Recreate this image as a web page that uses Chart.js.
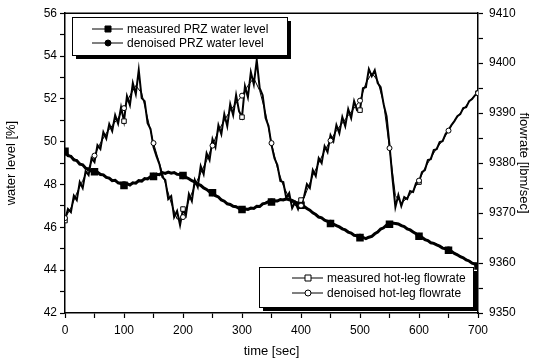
<!DOCTYPE html>
<html>
<head>
<meta charset="utf-8">
<script src="https://cdn.jsdelivr.net/npm/chart.js@4.4.1/dist/chart.umd.min.js"></script>
<style>
  body { margin: 0; background: #fff; }
  #wrap { width: 535px; height: 363px; }
</style>
</head>
<body>
<div id="wrap"><canvas id="c" width="535" height="363"></canvas></div>
<script>
// sample times [sec]
const times5 = Array.from({ length: 141 }, (_, i) => i * 5);
const times10 = Array.from({ length: 71 }, (_, i) => i * 10);

// PRZ water level [%], left axis
const levelMeasured = [
  49.55, 49.35, 49.32, 49.15, 49.12, 48.95, 48.92, 48.76, 48.72, 48.62,
  48.6, 48.58, 48.47, 48.45, 48.33, 48.30, 48.18, 48.2, 48.08, 48.05,
  47.96, 48.04, 47.98, 48.08, 48.06, 48.18, 48.16, 48.28, 48.26, 48.37,
  48.38, 48.48, 48.46, 48.56, 48.52, 48.58, 48.53, 48.56, 48.48, 48.47,
  48.42, 48.34, 48.27, 48.18, 48.12, 48.02, 47.96, 47.84, 47.77, 47.66,
  47.62, 47.48, 47.42, 47.28, 47.22, 47.1, 47.07, 46.98, 46.96, 46.88,
  46.83, 46.86, 46.84, 46.9, 46.88, 46.98, 46.97, 47.1, 47.13, 47.2,
  47.18, 47.24, 47.23, 47.3, 47.28, 47.33, 47.29, 47.26, 47.18, 47.12,
  47.03, 46.98, 46.88, 46.8, 46.68, 46.6, 46.48, 46.44, 46.33, 46.28,
  46.18, 46.15, 46.08, 46.02, 45.93, 45.88, 45.78, 45.73, 45.63, 45.6,
  45.52, 45.53, 45.47, 45.54, 45.58, 45.7, 45.78, 45.92, 45.98, 46.1,
  46.14, 46.2, 46.18, 46.16, 46.08, 46.04, 45.93, 45.88, 45.78, 45.7,
  45.58, 45.53, 45.43, 45.38, 45.28, 45.25, 45.18, 45.12, 45.03, 45.0,
  44.93, 44.88, 44.78, 44.72, 44.63, 44.58, 44.48, 44.43, 44.33, 44.28,
  44.2
];
const levelDenoised = [
  49.5, 49.3, 49.1, 48.9, 48.7, 48.6, 48.5, 48.35, 48.2, 48.1,
  48.0, 48.0, 48.1, 48.2, 48.3, 48.4, 48.5, 48.55, 48.55, 48.5,
  48.4, 48.25, 48.1, 47.95, 47.75, 47.6, 47.4, 47.2, 47.05, 46.95,
  46.85, 46.85, 46.9, 47.0, 47.15, 47.2, 47.25, 47.3, 47.3, 47.2,
  47.05, 46.9, 46.7, 46.5, 46.35, 46.2, 46.1, 45.95, 45.8, 45.65,
  45.55, 45.5, 45.6, 45.8, 46.0, 46.15, 46.2, 46.1, 45.95, 45.8,
  45.6, 45.45, 45.3, 45.2, 45.05, 44.95, 44.8, 44.65, 44.5, 44.35,
  44.2
];

// hot-leg flowrate [lbm/sec], right axis
const flowMeasured = [
  9368.5, 9370.8, 9370.2, 9373.5, 9372.6, 9376.2, 9375.0, 9378.4, 9377.6, 9381.0,
  9380.2, 9383.6, 9382.8, 9386.2, 9384.9, 9387.8, 9386.4, 9389.6, 9387.9, 9391.2,
  9388.4, 9393.4, 9391.6, 9396.0, 9393.8, 9398.6, 9393.0, 9392.4, 9388.0, 9386.8,
  9383.2, 9381.4, 9379.8, 9377.2, 9376.6, 9372.8, 9373.4, 9369.2, 9370.4, 9367.6,
  9370.8, 9369.6, 9373.8, 9372.4, 9376.6, 9375.2, 9379.4, 9377.8, 9382.0, 9380.6,
  9384.8, 9383.2, 9387.6, 9385.8, 9389.8, 9387.4, 9391.8, 9389.6, 9393.6, 9390.4,
  9389.2, 9395.4, 9393.2, 9398.2, 9395.8, 9400.6, 9395.0, 9393.6, 9389.0, 9387.4,
  9383.6, 9381.0, 9379.6, 9376.4, 9376.2, 9373.0, 9374.0, 9371.0, 9372.2, 9370.8,
  9372.6, 9373.2, 9375.8, 9375.0, 9378.6, 9377.4, 9381.0, 9380.0, 9383.4, 9382.2,
  9385.6, 9384.4, 9387.6, 9386.0, 9389.2, 9387.4, 9390.8, 9389.0, 9392.4, 9390.6,
  9390.6, 9395.0, 9395.2, 9398.8, 9397.4, 9398.6, 9396.0, 9395.2, 9391.8, 9389.4,
  9383.6, 9377.0, 9371.2, 9373.6, 9371.4, 9373.2, 9372.8, 9374.4, 9374.2, 9376.0,
  9376.2, 9378.2, 9378.6, 9380.6, 9380.8, 9382.6, 9382.8, 9384.2, 9384.4, 9385.8,
  9386.6, 9387.6, 9388.4, 9389.4, 9389.8, 9391.0, 9391.2, 9392.4, 9392.8, 9393.6,
  9394.0
];
const flowDenoised = [
  9369, 9371, 9374, 9376.5, 9379, 9381.5, 9384, 9386, 9387.5, 9389,
  9391, 9393.5, 9395.5, 9394, 9389, 9384, 9380, 9376, 9372, 9368.8,
  9369.2, 9372.5, 9375.5, 9378, 9380.5, 9383.5, 9386.5, 9388.5, 9390.5, 9392,
  9393.5, 9395.5, 9397, 9394.5, 9390, 9384, 9379, 9375.5, 9373, 9371.5,
  9371.5, 9374.5, 9377.5, 9380, 9382.5, 9384.5, 9386.5, 9388, 9389.5, 9391,
  9392.5, 9396, 9398, 9396.5, 9392, 9383, 9373.5, 9372, 9373, 9374.5,
  9376.5, 9379, 9381, 9383, 9384.5, 9386.5, 9388.5, 9390, 9391.5, 9393,
  9394
];

const seriesLabels = [
  'measured PRZ water level',
  'denoised PRZ water level',
  'measured hot-leg flowrate',
  'denoised hot-leg flowrate'
];

const pts = (xs, ys) => ys.map((y, i) => ({ x: xs[i], y: y }));

Chart.defaults.font.family = '"Liberation Sans", Arial, sans-serif';
Chart.defaults.color = '#000';

// two framed legends with a drop shadow, drawn on top of the plot
const boxLegends = {
  id: 'boxLegends',
  afterDraw(chart) {
    const ctx = chart.ctx;
    const boxes = [
      { items: [0, 1], x: 72, y: 17, w: 215, h: 38, rows: [29, 43], lx: 92, tx: 127 },
      { items: [2, 3], x: 259, y: 267, w: 214, h: 40, rows: [278, 293], lx: 292, tx: 327 }
    ];
    ctx.save();
    boxes.forEach(b => {
      ctx.fillStyle = '#000';
      ctx.fillRect(b.x + 4, b.y + 4, b.w, b.h);
      ctx.fillStyle = '#fff';
      ctx.fillRect(b.x, b.y, b.w, b.h);
      ctx.strokeStyle = '#000';
      ctx.lineWidth = 1;
      ctx.strokeRect(b.x + 0.5, b.y + 0.5, b.w, b.h);
      b.items.forEach((di, k) => {
        const ds = chart.data.datasets[di];
        const y = b.rows[k];
        ctx.beginPath();
        ctx.moveTo(b.lx, y);
        ctx.lineTo(b.lx + 31, y);
        ctx.lineWidth = 1;
        ctx.strokeStyle = '#000';
        ctx.stroke();
        const mx = b.lx + 16;
        ctx.fillStyle = ds.pointBackgroundColor;
        ctx.beginPath();
        if (ds.pointStyle === 'rect') ctx.rect(mx - 3, y - 3, 6, 6);
        else ctx.arc(mx, y, 3, 0, Math.PI * 2);
        ctx.fill();
        ctx.stroke();
        ctx.fillStyle = '#000';
        ctx.font = '12px "Liberation Sans", Arial, sans-serif';
        ctx.textBaseline = 'middle';
        ctx.fillText(ds.label, b.tx, y + 1);
      });
    });
    ctx.restore();
  },
  beforeDatasetsDraw(chart) {
    const a = chart.chartArea;
    const ctx = chart.ctx;
    ctx.save();
    ctx.strokeStyle = '#000';
    ctx.lineWidth = 1.5;
    ctx.beginPath();
    ctx.moveTo(a.left, a.top);
    ctx.lineTo(a.right, a.top);
    ctx.stroke();
    ctx.restore();
  }
};

const every = n => c => (c.dataIndex % n === 0 ? (c.dataset.pointStyle === 'rect' ? 3.2 : 2.5) : 0);

new Chart(document.getElementById('c'), {
  type: 'line',
  data: {
    datasets: [
      {
        label: seriesLabels[0], data: pts(times5, levelMeasured), yAxisID: 'yLevel',
        borderColor: '#000', borderWidth: 3, pointStyle: 'rect',
        pointBackgroundColor: '#000', pointBorderColor: '#000', pointRadius: every(10), order: 3
      },
      {
        label: seriesLabels[1], data: pts(times10, levelDenoised), yAxisID: 'yLevel',
        borderColor: '#000', borderWidth: 1.5, pointStyle: 'circle',
        pointBackgroundColor: '#000', pointBorderColor: '#000', pointRadius: every(5), order: 2
      },
      {
        label: seriesLabels[2], data: pts(times5, flowMeasured), yAxisID: 'yFlow',
        borderColor: '#000', borderWidth: 2, pointStyle: 'rect',
        pointBackgroundColor: '#fff', pointBorderColor: '#000', pointBorderWidth: 1,
        pointRadius: every(20), order: 1
      },
      {
        label: seriesLabels[3], data: pts(times10, flowDenoised), yAxisID: 'yFlow',
        borderColor: '#000', borderWidth: 1, pointStyle: 'circle',
        pointBackgroundColor: '#fff', pointBorderColor: '#000', pointBorderWidth: 1,
        pointRadius: every(5), order: 0
      }
    ]
  },
  options: {
    responsive: false,
    animation: false,
    layout: { padding: { top: 13, left: 0, right: 0, bottom: 0 } },
    plugins: { legend: { display: false }, tooltip: { enabled: false } },
    elements: { line: { tension: 0 } },
    scales: {
      x: {
        type: 'linear', min: 0, max: 700,
        grid: { drawOnChartArea: false, tickLength: 5, color: '#000', tickWidth: 1.2 },
        border: { color: '#000', width: 1.5 },
        ticks: {
          stepSize: 50, autoSkip: false, maxRotation: 0, padding: 5,
          font: { size: 12 },
          callback: v => (v % 100 === 0 ? v : '')
        },
        title: { display: true, text: 'time [sec]', font: { size: 13 } },
        afterFit: s => { s.height = 50; }
      },
      yLevel: {
        type: 'linear', position: 'left', min: 42, max: 56,
        grid: { drawOnChartArea: false, tickLength: 5, color: '#000', tickWidth: 1.2 },
        border: { color: '#000', width: 1.5 },
        ticks: {
          stepSize: 1, padding: 3, font: { size: 12 },
          callback: v => (v % 2 === 0 ? v : '')
        },
        title: { display: true, text: 'water level [%]', font: { size: 13 } },
        afterFit: s => { s.width = 65; }
      },
      yFlow: {
        type: 'linear', position: 'right', min: 9350, max: 9410,
        grid: { drawOnChartArea: false, tickLength: 5, color: '#000', tickWidth: 1.2 },
        border: { color: '#000', width: 1.5 },
        ticks: {
          stepSize: 5, padding: 6, font: { size: 12 },
          callback: v => (v % 10 === 0 ? v : '')
        },
        title: { display: true, text: 'flowrate [lbm/sec]', font: { size: 13 } },
        afterFit: s => { s.width = 57; }
      }
    }
  },
  plugins: [boxLegends]
});
</script>
</body>
</html>
